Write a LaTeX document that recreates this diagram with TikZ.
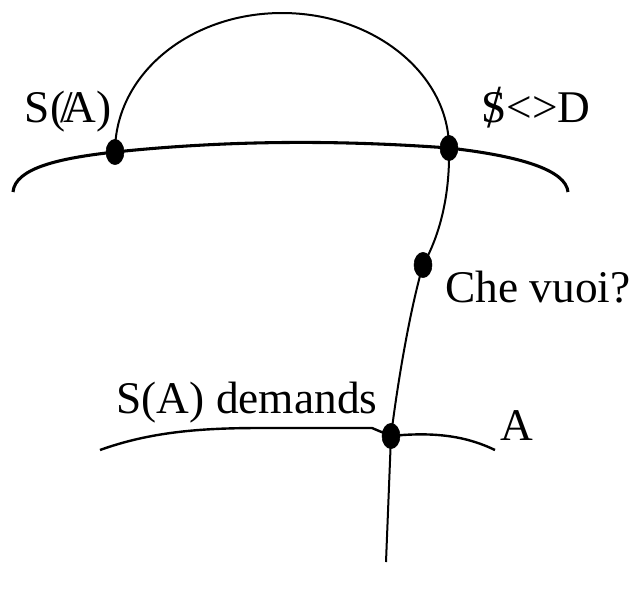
\documentclass[tikz,border=0pt]{standalone}
\usepackage{fontspec}
\usepackage{graphicx}
\setmainfont{Liberation Serif}
\usetikzlibrary{positioning,shapes.geometric}
\newcommand{\barS}{\ooalign{S\cr\hidewidth\raisebox{-0.12em}{\scalebox{1.1}[1.35]{/}}\hidewidth\cr}}
\newcommand{\barA}{\kern-0.1em/\kern-0.22em A}

\begin{document}
\begin{tikzpicture}[x=0.75pt, y=-0.75pt,
  font=\fontsize{34}{40}\selectfont,
  dot/.style={ellipse, fill, draw, inner sep=0pt,
              minimum width=13.5pt, minimum height=19pt},
  lbl/.style={anchor=base, inner sep=0pt},
  horizon/.style={line width=2.3pt},
  graphline/.style={line width=1.5pt}]
\useasboundingbox (0,0) rectangle (632,594);
% points where the lines meet
\node[dot] (sA) at (115,152) {};
\node[dot] (sD) at (449,148) {};
\node[dot] (cv) at (423,265) {};
\node[dot] (dA) at (391,436) {};
\coordinate (hl) at (13,192);
\coordinate (hr) at (568,192);
\coordinate (ll) at (100,450);
\coordinate (lr) at (495,450);
\coordinate (bot) at (386,562);
% upper line and arc
\draw[horizon] (hl) .. controls (15,168) and (60,158) .. (sA.center)
  .. controls (230,140) and (340,140) .. (sD.center)
  .. controls (520,156) and (566,170) .. (hr);
\draw[graphline] (sA.center) .. controls (115,74) and (190,13) .. (282,13)
  .. controls (374,13) and (449,74) .. (sD.center);
% lower line
\draw[horizon, line width=1.8pt] (ll) .. controls (150,432) and (200,428) .. (260,428)
  -- (372,428) -- (dA.center) .. controls (440,431) and (470,438) .. (lr);
% vertical path
\draw[graphline] (sD.center) .. controls (450,195) and (440,235) .. (cv.center)
  .. controls (410,310) and (398,380) .. (dA.center) -- (bot);
% labels
\node[lbl] (tSA) at (68,122) {S(\barA)};
\node[lbl] (tSD) at (536,122) {\barS<>D};
\node[lbl] (tCV) at (538,302) {Che vuoi?};
\node[lbl] (tDm) at (247,413) {S(A) demands};
\node[lbl] (tA) at (517,440) {A};
\end{tikzpicture}
\end{document}
